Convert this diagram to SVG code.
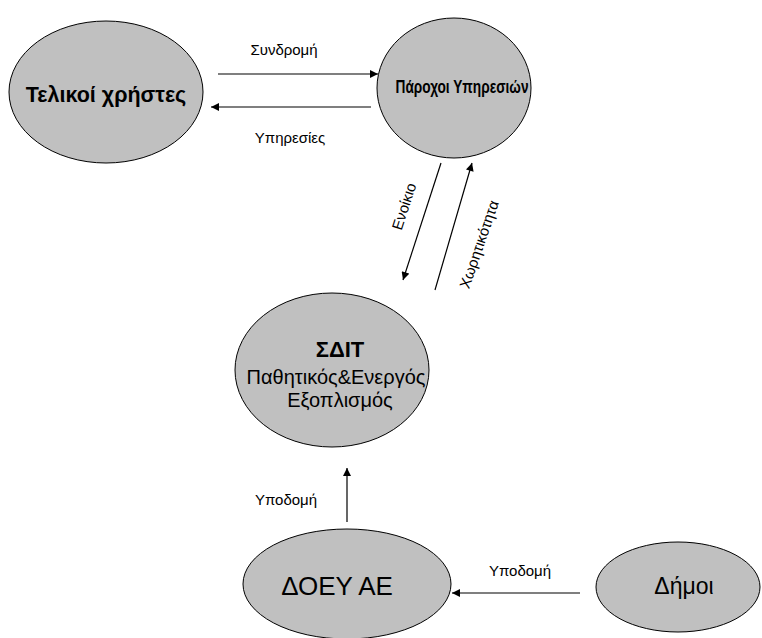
<svg xmlns="http://www.w3.org/2000/svg" width="762" height="638" viewBox="0 0 762 638">
<defs>
<style>
.node ellipse{fill:#c0c0c0;stroke:#000;stroke-width:1}
.t{font-family:"Liberation Sans",Arial,sans-serif;fill:#000;text-anchor:middle}
.b{font-weight:bold}
.lbl{font-family:"Liberation Sans",Arial,sans-serif;font-size:15px;fill:#000;text-anchor:middle}
.edge{stroke:#000;stroke-width:1.2;fill:none;marker-end:url(#ah)}
</style>
<marker id="ah" viewBox="0 0 10 10" refX="10" refY="5" markerWidth="9" markerHeight="8" markerUnits="userSpaceOnUse" orient="auto">
<path d="M0,0 L10,5 L0,10 z" fill="#000"/>
</marker>
</defs>
<rect width="762" height="638" fill="#fff"/>
<g id="n-users" class="node">
<ellipse cx="106" cy="92" rx="97" ry="71"/>
<text class="t b" x="106" y="102" font-size="21.5">Τελικοί χρήστες</text>
</g>
<g id="n-providers" class="node">
<ellipse cx="454" cy="88" rx="77" ry="70"/>
<text class="t b" x="462" y="93" font-size="18.5" textLength="133" lengthAdjust="spacingAndGlyphs">Πάροχοι Υπηρεσιών</text>
</g>
<g id="n-sdit" class="node">
<ellipse cx="332" cy="370" rx="97" ry="77"/>
<text class="t b" x="340" y="357" font-size="22">ΣΔΙΤ</text>
<text class="t" x="336" y="384" font-size="20">Παθητικός&amp;Ενεργός</text>
<text class="t" x="340" y="407" font-size="20">Εξοπλισμός</text>
</g>
<g id="n-doey" class="node">
<ellipse cx="347" cy="584" rx="104" ry="55"/>
<text class="t" x="337" y="595" font-size="26">ΔΟΕΥ ΑΕ</text>
</g>
<g id="n-dimoi" class="node">
<ellipse cx="678" cy="587" rx="82" ry="45"/>
<text class="t" x="684" y="594" font-size="23">Δήμοι</text>
</g>
<g id="connectors">
<line class="edge" x1="218" y1="74" x2="378" y2="74"/>
<line class="edge" x1="371" y1="107" x2="211" y2="107"/>
<line class="edge" x1="441" y1="163" x2="403" y2="280"/>
<line class="edge" x1="435" y1="290" x2="472" y2="163"/>
<line class="edge" x1="347" y1="522" x2="347" y2="468"/>
<line class="edge" x1="580" y1="593" x2="452" y2="593"/>
<text class="lbl" x="284" y="55">Συνδρομή</text>
<text class="lbl" x="290" y="143">Υπηρεσίες</text>
<text class="lbl" transform="translate(409,208) rotate(-72)">Ενοίκιο</text>
<text class="lbl" transform="translate(484,246) rotate(-71)">Χωρητικότητα</text>
<text class="lbl" x="286" y="505">Υποδομή</text>
<text class="lbl" x="520" y="576">Υποδομή</text>
</g>
</svg>
